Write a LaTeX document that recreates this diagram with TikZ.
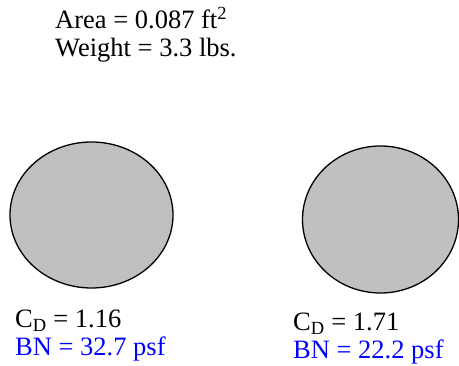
\documentclass[tikz,border=0pt]{standalone}
\usepackage{fontspec}
\setmainfont{Liberation Serif}
\usetikzlibrary{shapes.geometric,positioning}
\definecolor{disc}{RGB}{192,192,192}
\definecolor{bnblue}{RGB}{0,0,255}

\begin{document}
\begin{tikzpicture}[x=1pt,y=-1pt,
  plate/.style={ellipse,draw=black,line width=1.3pt,fill=disc,inner sep=0pt},
  lab/.style={anchor=base west,inner sep=0pt,align=left,font=\fontsize{26.5}{30}\selectfont},
  bn/.style={lab,text=bnblue}]
\useasboundingbox (0,0) rectangle (459,366);
\node[lab] (area) at (55,29) {Area = 0.087 ft\textsuperscript{2}};
\node[lab] (weight) at (55,57) {Weight = 3.3 lbs.};
\node[plate,minimum width=163pt,minimum height=146pt] (left) at (91.5,215) {};
\node[plate,minimum width=156pt,minimum height=147pt] (right) at (380.5,219.5) {};
\node[lab] (cdleft) at (15,328) {C\textsubscript{D} = 1.16};
\node[bn] (bnleft) at (15,356) {BN = 32.7 psf};
\node[lab] (cdright) at (293,331) {C\textsubscript{D} = 1.71};
\node[bn] (bnright) at (293,359) {BN = 22.2 psf};
\end{tikzpicture}
\end{document}
